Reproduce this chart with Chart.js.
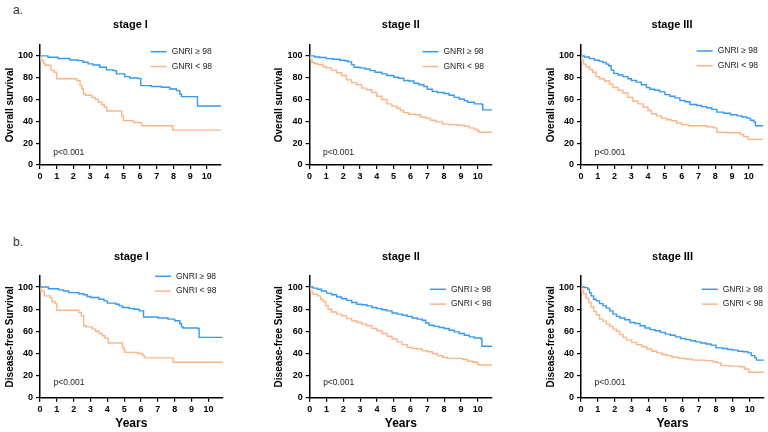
<!DOCTYPE html>
<html>
<head>
<meta charset="utf-8">
<script src="https://cdn.jsdelivr.net/npm/chart.js@4.4.1/dist/chart.umd.min.js"></script>
<style>
  body { margin: 0; background: #fff; }
  #wrap { position: relative; width: 768px; height: 432px; overflow: hidden; background: #fff;
          font-family: Arial, "Liberation Sans", Helvetica, sans-serif; }
  #wrap canvas { position: absolute; }
  .tag { position: absolute; font-size: 12px; color: #333; line-height: 14px; }
</style>
</head>
<body>
<div id="wrap">
  <div class="tag" style="left:13px;top:3px">a.</div>
  <div class="tag" style="left:13px;top:235px">b.</div>
</div>
<script>
// Kaplan-Meier curves by GNRI group: [years, % surviving]
const xTicks = [0, 1, 2, 3, 4, 5, 6, 7, 8, 9, 10];
const yTicks = [0, 20, 40, 60, 80, 100];
const groupLabels = ['GNRI \u2265 98', 'GNRI < 98'];
const pText = 'p<0.001';

// a. overall survival
const os1High = [[0,100],[0.48,98.8],[1.08,97.6],[1.78,96.3],[2.28,95.7],[2.58,94.2],[2.88,92.7],[3.18,91.7],[3.58,89.6],[3.98,87.2],[4.38,86.5],[4.58,83.5],[5.08,81],[5.38,79.8],[5.88,79.2],[6.04,72.8],[6.68,71.9],[7.28,71.3],[7.78,69.7],[8.18,68.2],[8.38,65.1],[8.48,62.7],[9.44,54.1],[10.85,54.1]];
const os1Low = [[0,100],[0.05,96],[0.2,93],[0.3,91.5],[0.65,87],[0.85,85],[1.0,79],[2.2,77.5],[2.4,73],[2.5,70],[2.6,65.5],[2.7,64],[3.1,62],[3.3,60],[3.5,57.5],[3.7,55.5],[3.85,53],[4.0,49.5],[4.9,45],[5.0,40.7],[5.6,39],[6.1,36],[7.95,32],[10.85,32]];
const os2High = [[0,100],[0.3,99],[0.6,98.5],[1.0,97.5],[1.4,97],[1.8,96],[2.1,95.5],[2.3,94.5],[2.5,92],[2.65,89.6],[3.0,89],[3.3,88],[3.6,86.5],[3.9,85],[4.3,83.5],[4.6,82],[5.0,80.5],[5.3,79.5],[5.6,77.5],[5.9,77],[6.2,75],[6.5,73.5],[6.8,72],[7.0,69.5],[7.3,67.5],[7.6,66.5],[8.0,65.5],[8.3,64],[8.6,62],[8.9,60.5],[9.2,59],[9.4,57.5],[9.8,56],[10.25,55.5],[10.3,50.5],[10.85,50.5]];
const os2Low = [[0,100],[0.05,97],[0.15,94],[0.3,93],[0.5,92],[0.8,90],[1.0,89],[1.3,87],[1.6,84.5],[1.9,82],[2.2,78],[2.5,75.5],[2.8,73.5],[3.1,70.5],[3.4,69],[3.7,66.5],[4.0,63],[4.3,60],[4.6,56],[4.9,54],[5.2,52],[5.4,50],[5.6,48],[5.9,46.5],[6.3,46],[6.6,44],[6.9,43],[7.2,41],[7.5,39.5],[7.9,37.5],[8.3,37],[8.8,36.5],[9.2,35.5],[9.5,34],[9.8,32.5],[10.0,31],[10.1,30],[10.85,30]];
const os3High = [[0,100],[0.2,99],[0.5,97.5],[0.8,96],[1.1,95],[1.3,94],[1.5,92.5],[1.65,91],[1.8,87],[1.95,84],[2.2,82.5],[2.5,81],[2.8,79],[3.0,77.5],[3.3,76],[3.6,73.5],[3.9,71],[4.1,69.5],[4.4,68.5],[4.7,67],[5.0,64.5],[5.3,63],[5.6,61.5],[5.9,59],[6.2,58],[6.5,55.5],[6.9,54.5],[7.2,53.5],[7.5,52.5],[7.8,51],[8.1,48.5],[8.5,47.5],[8.9,46],[9.3,45],[9.6,44],[9.9,43],[10.1,41],[10.3,39.5],[10.4,36],[10.85,36]];
const os3Low = [[0,100],[0.05,96],[0.15,92.5],[0.3,90],[0.5,87.5],[0.7,85],[0.9,81],[1.1,79],[1.4,77],[1.7,74],[1.9,71],[2.2,68.5],[2.5,66],[2.8,62],[3.1,58.5],[3.4,56],[3.7,53],[4.0,50],[4.2,47],[4.5,45],[4.8,43],[5.1,41.5],[5.4,40.5],[5.7,38.5],[6.0,37],[6.4,36],[7.0,36],[7.5,35],[7.9,34],[8.1,30],[8.7,29.5],[9.2,29.5],[9.5,28],[9.7,26],[9.95,23.5],[10.85,23.5]];

// b. disease-free survival
const dfs1High = [[0,100],[0.5,98.5],[1.1,97.5],[1.4,96.5],[1.7,95],[2.3,94],[2.6,93],[2.8,91.5],[3.0,90.5],[3.5,89],[3.8,87.5],[4.0,85.5],[4.5,84.5],[4.7,83],[4.9,81.5],[5.3,80.5],[5.6,80],[5.9,78.5],[6.15,73],[7.0,72],[7.6,71],[8.0,69.5],[8.3,67],[8.4,64],[8.5,63],[9.35,62.5],[9.45,54.5],[10.85,54.5]];
const dfs1Low = [[0,100],[0.05,96.5],[0.25,92],[0.6,90.5],[0.7,87],[0.9,85],[1.0,79],[2.3,77],[2.45,74],[2.6,65],[2.7,64],[3.1,62],[3.3,60],[3.5,58],[3.7,56],[3.85,54],[4.05,49.5],[4.9,45],[5.0,43],[5.05,41],[5.8,40],[6.1,38],[6.2,36],[7.9,32],[10.85,32]];
const dfs2High = [[0,100],[0.2,99],[0.45,98],[0.7,96.5],[1.0,94.5],[1.3,93],[1.6,91],[1.9,89.5],[2.2,88],[2.5,86],[2.8,84.5],[3.1,84],[3.4,83],[3.7,81.5],[4.0,80.5],[4.3,79.5],[4.6,78.5],[4.9,76.5],[5.2,75.5],[5.5,74.5],[5.8,73.5],[6.1,72],[6.4,71],[6.7,70],[6.9,67.5],[7.1,65.5],[7.4,64.5],[7.7,63.5],[8.0,62.5],[8.3,61],[8.6,59.5],[8.9,58],[9.2,56.5],[9.5,55],[9.8,54],[10.2,53],[10.25,46.5],[10.85,46.5]];
const dfs2Low = [[0,100],[0.05,96],[0.2,93.5],[0.45,92],[0.65,89],[0.8,87],[0.95,83],[1.1,80],[1.3,77.5],[1.6,75.5],[1.9,74],[2.2,71.5],[2.5,69.5],[2.8,68],[3.1,66.5],[3.4,65],[3.7,62.5],[4.0,60.5],[4.3,58],[4.6,55.5],[4.9,53],[5.2,50.5],[5.5,48],[5.8,45.5],[6.1,44.5],[6.4,44],[6.7,42.5],[7.0,41.5],[7.3,40],[7.6,38],[7.9,36.5],[8.2,35.5],[8.8,35.5],[9.1,34.5],[9.4,33],[9.7,32],[10.0,30],[10.1,29.5],[10.85,29.5]];
const dfs3High = [[0,100],[0.2,99.5],[0.4,98],[0.5,95],[0.6,92],[0.75,89],[0.9,87.5],[1.1,85],[1.3,83],[1.5,81],[1.7,78.5],[1.9,75.5],[2.1,73.5],[2.3,72],[2.6,70.5],[2.9,68],[3.2,67],[3.5,65],[3.8,63],[4.1,61.5],[4.4,60.5],[4.7,59],[5.0,57.5],[5.3,56.5],[5.6,55],[5.9,53.5],[6.2,52.5],[6.5,51.5],[6.8,50.5],[7.1,49.5],[7.4,48.5],[7.7,47.5],[8.0,45],[8.4,44.5],[8.7,43.5],[9.0,43],[9.3,42],[9.6,41.5],[9.9,40.5],[10.1,38],[10.3,36],[10.4,34],[10.85,34]];
const dfs3Low = [[0,100],[0.05,97],[0.15,94],[0.3,90],[0.45,86],[0.6,82],[0.75,78],[0.9,75],[1.1,71],[1.3,69],[1.5,66.5],[1.7,64.5],[1.9,62],[2.1,60],[2.3,57],[2.5,54.5],[2.7,52],[3.0,50],[3.3,48],[3.6,46],[3.9,44],[4.2,42],[4.5,40.5],[4.8,39],[5.1,38],[5.4,36.5],[5.8,35.5],[6.2,35],[6.6,34],[7.0,34],[7.4,33.5],[7.8,32.5],[8.1,31.5],[8.3,29],[8.8,28.5],[9.4,28],[9.7,26],[9.95,23],[10.85,23]];

// panel layout: plot box [left, top, right, bottom] in page pixels
const panels = [
  { title: 'stage I',   yTitle: 'Overall survival', high: os1High, low: os1Low, box: [40, 45, 221, 165],    gap: 20,   legend: [110.7, 6.7], pY: 11 },
  { title: 'stage II',  yTitle: 'Overall survival', high: os2High, low: os2Low, box: [309.5, 45, 492, 165], gap: 20,   legend: [113, 6.7],   pY: 11 },
  { title: 'stage III', yTitle: 'Overall survival', high: os3High, low: os3Low, box: [581, 45, 763, 165],   gap: 20,   legend: [115.7, 6],   pY: 11 },
  { title: 'stage I',   yTitle: 'Disease-free Survival', high: dfs1High, low: dfs1Low, box: [40, 276, 222.7, 397.7],  gap: 18.7, legend: [115, 0.3],  pY: 13.5, years: true },
  { title: 'stage II',  yTitle: 'Disease-free Survival', high: dfs2High, low: dfs2Low, box: [309.7, 276, 492, 397.7], gap: 18.7, legend: [120.3, 13.3], pY: 13.5, years: true },
  { title: 'stage III', yTitle: 'Disease-free Survival', high: dfs3High, low: dfs3Low, box: [581, 276, 764, 397.7],   gap: 18.7, legend: [120.7, 13.3], pY: 13.5, years: true }
];

const FONT = 'Arial, "Liberation Sans", Helvetica, sans-serif';
Chart.defaults.font.family = FONT;

// legend lines + p value drawn inside the plot area
const kmNotes = {
  id: 'kmNotes',
  afterDatasetsDraw(chart, args, opts) {
    const { ctx, chartArea: a, scales } = chart;
    ctx.save();
    ctx.font = '8.5px ' + FONT;
    ctx.textBaseline = 'middle';
    ctx.textAlign = 'left';
    chart.data.datasets.forEach((ds, i) => {
      const x = a.left + opts.legend[0];
      const y = a.top + opts.legend[1] + i * 14.8;
      ctx.strokeStyle = ds.borderColor;
      ctx.lineWidth = 1.5;
      ctx.beginPath();
      ctx.moveTo(x, y);
      ctx.lineTo(x + 16, y);
      ctx.stroke();
      ctx.fillStyle = '#222';
      ctx.fillText(ds.label, x + 21, y);
    });
    ctx.fillStyle = '#222';
    ctx.fillText(pText, scales.x.getPixelForValue(0.8), scales.y.getPixelForValue(opts.pY));
    ctx.restore();
  }
};

const wrap = document.getElementById('wrap');
const toXY = arr => arr.map(([x, y]) => ({ x, y }));

panels.forEach(p => {
  const [L, T, R, B] = p.box;
  const titleLine = 11 * 1.2;
  const titlePad = p.gap - titleLine / 2;
  const xH = p.years ? 34 : 20;
  const yW = 40;

  const left = Math.floor(L - yW);
  const top = Math.floor(T - titleLine - titlePad - 2);
  const w = Math.ceil(R + 6 - left);
  const h = Math.min(432, Math.ceil(B + xH - top));

  const cv = document.createElement('canvas');
  cv.width = w; cv.height = h;
  cv.style.left = left + 'px'; cv.style.top = top + 'px';
  cv.style.width = w + 'px'; cv.style.height = h + 'px';
  wrap.appendChild(cv);

  new Chart(cv.getContext('2d'), {
    type: 'scatter',
    data: {
      datasets: [
        { label: groupLabels[0], data: toXY(p.high), borderColor: '#3599f2', showLine: true, stepped: true, pointRadius: 0, borderWidth: 1.4 },
        { label: groupLabels[1], data: toXY(p.low), borderColor: '#fbb585', showLine: true, stepped: true, pointRadius: 0, borderWidth: 1.4 }
      ]
    },
    options: {
      responsive: false,
      animation: false,
      events: [],
      layout: {
        padding: {
          left: (L - yW) - left,
          top: T - titleLine - titlePad - top,
          right: w - (R - left),
          bottom: h - (B + xH - top)
        }
      },
      plugins: {
        legend: { display: false },
        tooltip: { enabled: false },
        title: {
          display: true,
          text: p.title,
          fullSize: false,
          color: '#000',
          font: { size: 11, weight: 'bold' },
          padding: { top: 0, bottom: titlePad }
        },
        kmNotes: { legend: p.legend, pY: p.pY }
      },
      scales: {
        x: {
          type: 'linear',
          min: 0,
          max: 10.85,
          afterBuildTicks: s => { s.ticks = xTicks.map(v => ({ value: v })); },
          afterFit: s => { s.height = xH; },
          ticks: { color: '#000', font: { size: 9, weight: 'bold' }, padding: 2, maxRotation: 0, autoSkip: false },
          grid: { drawOnChartArea: false, tickLength: 4, color: '#000', lineWidth: 1.2 },
          border: { color: '#000', width: 1.5 },
          title: {
            display: !!p.years,
            text: 'Years',
            color: '#000',
            font: { size: 12, weight: 'bold' },
            padding: { top: 0, bottom: 0.5 }
          }
        },
        y: {
          type: 'linear',
          min: 0,
          max: 110,
          afterBuildTicks: s => { s.ticks = yTicks.map(v => ({ value: v })); },
          afterFit: s => { s.width = yW; },
          ticks: { color: '#000', font: { size: 9, weight: 'bold' }, padding: 3 },
          grid: { drawOnChartArea: false, tickLength: 4, color: '#000', lineWidth: 1.2 },
          border: { color: '#000', width: 1.5 },
          title: {
            display: true,
            text: p.yTitle,
            color: '#000',
            font: { size: 10, weight: 'bold' },
            padding: { top: 4, bottom: 0 }
          }
        }
      }
    },
    plugins: [kmNotes]
  });
});
</script>
</body>
</html>
